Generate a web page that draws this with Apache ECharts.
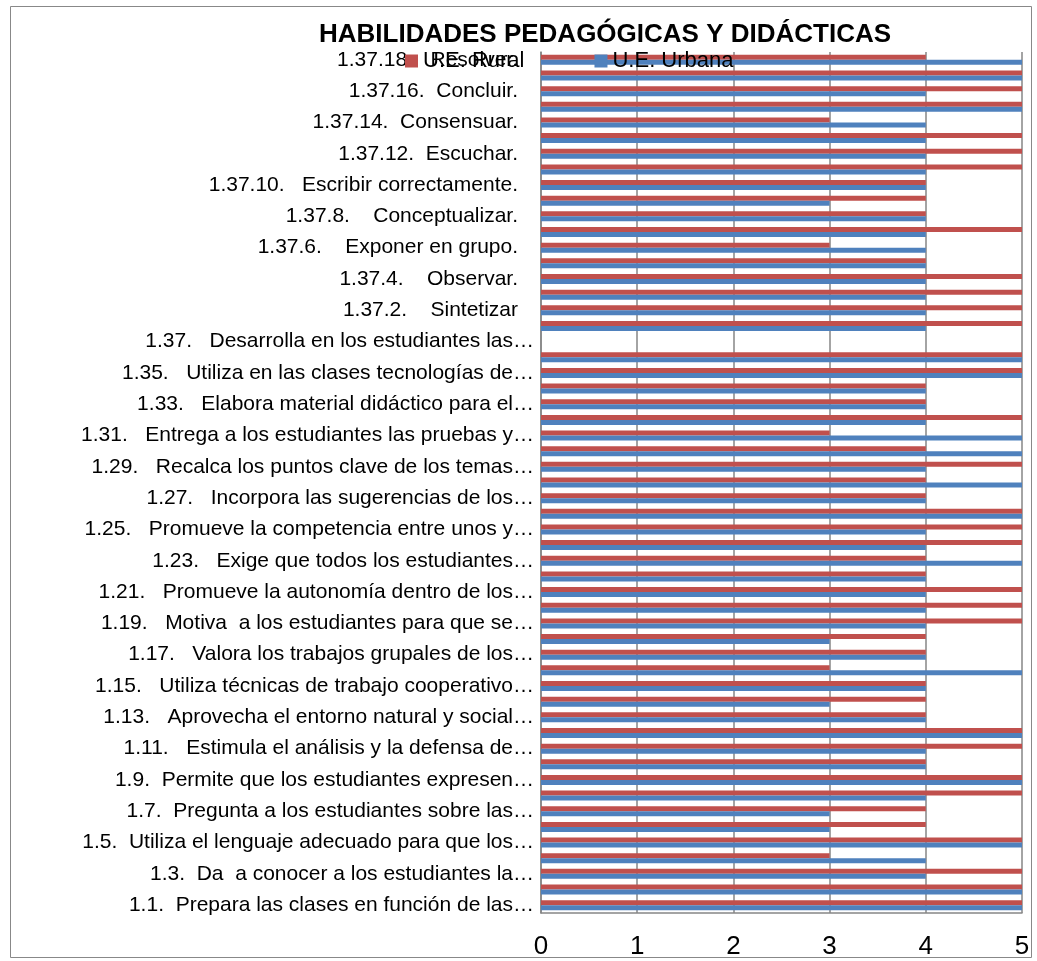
<!DOCTYPE html>
<html><head><meta charset="utf-8">
<script src="https://cdn.jsdelivr.net/npm/echarts@6/dist/echarts.min.js"></script>
<style>html,body{margin:0;padding:0;background:#fff}#c{width:1037px;height:961px}</style>
</head><body><div id="c"></div>
<script>
const categories = [
"1.1.  Prepara las clases en función de las…","1.2.",
"1.3.  Da  a conocer a los estudiantes la…","1.4.",
"1.5.  Utiliza el lenguaje adecuado para que los…","1.6.",
"1.7.  Pregunta a los estudiantes sobre las…","1.8.",
"1.9.  Permite que los estudiantes expresen…","1.10.",
"1.11.   Estimula el análisis y la defensa de…","1.12.",
"1.13.   Aprovecha el entorno natural y social…","1.14.",
"1.15.   Utiliza técnicas de trabajo cooperativo…","1.16.",
"1.17.   Valora los trabajos grupales de los…","1.18.",
"1.19.   Motiva  a los estudiantes para que se…","1.20.",
"1.21.   Promueve la autonomía dentro de los…","1.22.",
"1.23.   Exige que todos los estudiantes…","1.24.",
"1.25.   Promueve la competencia entre unos y…","1.26.",
"1.27.   Incorpora las sugerencias de los…","1.28.",
"1.29.   Recalca los puntos clave de los temas…","1.30.",
"1.31.   Entrega a los estudiantes las pruebas y…","1.32.",
"1.33.   Elabora material didáctico para el…","1.34.",
"1.35.   Utiliza en las clases tecnologías de…","1.36.",
"1.37.   Desarrolla en los estudiantes las…","1.37.1.",
"1.37.2.    Sintetizar","1.37.3.",
"1.37.4.    Observar.","1.37.5.",
"1.37.6.    Exponer en grupo.","1.37.7.",
"1.37.8.    Conceptualizar.","1.37.9.",
"1.37.10.   Escribir correctamente.","1.37.11.",
"1.37.12.  Escuchar.","1.37.13.",
"1.37.14.  Consensuar.","1.37.15.",
"1.37.16.  Concluir.","1.37.17.",
"1.37.18.   Resolver."
];
const seriesNames = ["U.E. Rural", "U.E. Urbana"];
const rural = [5,5,5,3,5,4,4,5,5,4, 5,5,4,4,4,3,4,4,5,5, 5,4,4,5,5,5,4,4,5,4, 3,5,4,4,5,5,null, 5,5,5,5,4,3,5,4,4,4, 5,5,5,3,5,5,5,4];
const urbana = [5,5,4,4,5,3,3,4,5,4, 4,5,4,3,4,5,4,3,4,4, 4,4,5,4,4,5,4,5,4,5, 5,4,4,4,5,5,null, 4,4,4,4,4,4,4,4,3,4, 4,4,4,4,5,4,5,5];
const xMin = 0, xMax = 5, xStep = 1;
const titleText = "HABILIDADES PEDAGÓGICAS Y DIDÁCTICAS";

const chart = echarts.init(document.getElementById('c'), null, {renderer: 'canvas'});
const FONT = '"Liberation Sans", Arial, sans-serif';
chart.setOption({
  animation: false,
  backgroundColor: '#fff',
  textStyle: {fontFamily: FONT},
  title: {
    text: titleText, left: 319, top: 22, padding: 0,
    textStyle: {fontFamily: FONT, fontSize: 26, fontWeight: 'bold', color: '#000'}
  },
  legend: {
    data: seriesNames, left: 405, top: 50, padding: 0,
    icon: 'rect', itemWidth: 13, itemHeight: 13, itemGap: 70,
    textStyle: {fontFamily: FONT, fontSize: 22, color: '#000'}
  },
  graphic: [{
    type: 'rect', left: 8, top: 4, z: -1,
    shape: {width: 1021, height: 951},
    style: {fill: 'none', stroke: '#888', lineWidth: 1}
  }],
  grid: {left: 541, right: 15, top: 52, bottom: 48, containLabel: false},
  xAxis: {
    type: 'value', min: xMin, max: xMax, interval: xStep,
    axisLine: {show: true, lineStyle: {color: '#868686', width: 1.5}},
    axisTick: {show: false},
    splitLine: {show: true, lineStyle: {color: '#868686', width: 1.5}},
    axisLabel: {fontSize: 26, color: '#000', margin: 21, fontFamily: FONT}
  },
  yAxis: {
    type: 'category', data: categories,
    axisLine: {show: true, lineStyle: {color: '#868686', width: 1.5}},
    axisTick: {show: false},
    splitLine: {show: false},
    axisLabel: {
      interval: 1, fontSize: 21, color: '#000', margin: 7, fontFamily: FONT,
      formatter: function (v) { return v.endsWith('…') ? v : '{s|' + v + '}'; },
      rich: {s: {fontSize: 21, color: '#000', fontFamily: FONT, padding: [0, 16, 0, 0]}}
    }
  },
  series: [
    {name: seriesNames[0], type: 'bar', data: rural, barWidth: 5, barGap: '0%',
     itemStyle: {color: '#C0504D'}},
    {name: seriesNames[1], type: 'bar', data: urbana, barWidth: 5, barGap: '0%',
     itemStyle: {color: '#4F81BD'}}
  ]
});
</script></body></html>
